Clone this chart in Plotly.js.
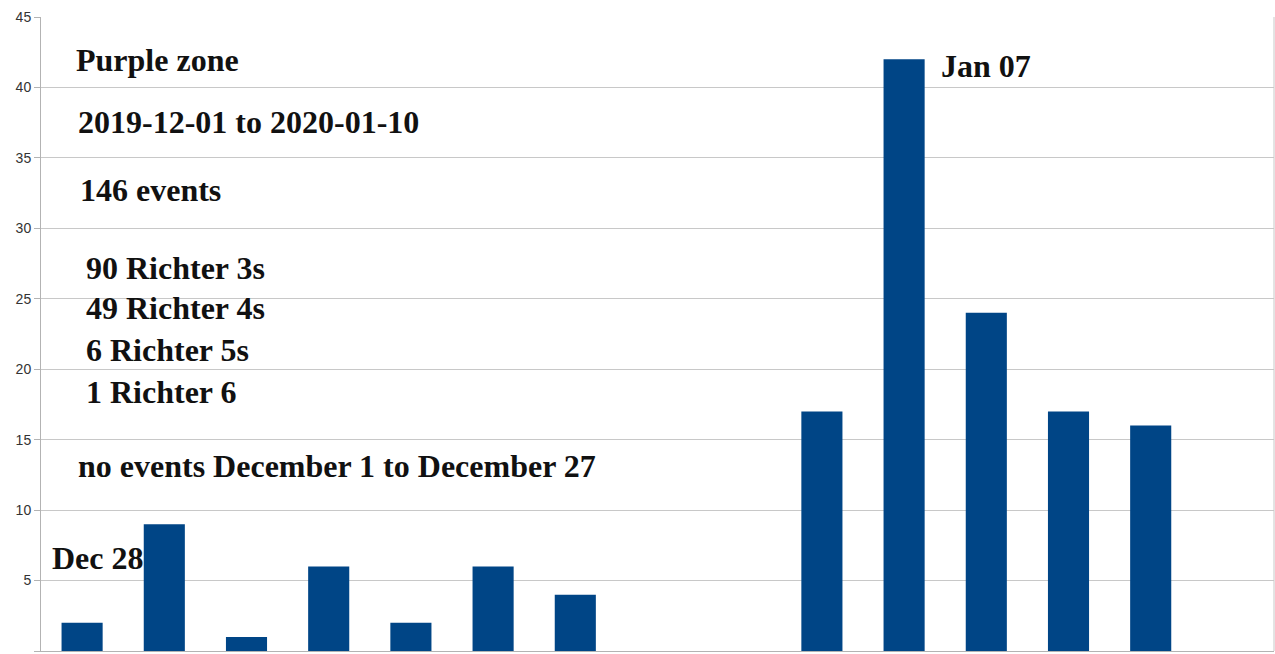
<!DOCTYPE html>
<html><head><meta charset="utf-8">
<script src="https://cdn.plot.ly/plotly-3.0.1.min.js"></script>
<style>html,body{margin:0;padding:0;background:#fff;}#chart{width:1275px;height:654px;}</style>
</head><body><div id="chart"></div>
<script>
const days = ["Dec 28","Dec 29","Dec 30","Dec 31","Jan 01","Jan 02","Jan 03","Jan 04","Jan 05","Jan 06","Jan 07","Jan 08","Jan 09","Jan 10","Jan 11"];
const events = [2,9,1,6,2,6,4,0,0,17,42,24,17,16,0];
const yTicks = [0,5,10,15,20,25,30,35,40,45];

const textFont = {family:"Liberation Serif, Times New Roman, serif", size:32, color:"#111"};
function ann(text, px, py){
  return {text:"<b>"+text+"</b>", xref:"paper", yref:"paper", x:(px-41)/1232, y:(651-py)/634,
          xanchor:"left", yanchor:"middle", showarrow:false, font:textFont};
}
const annotations = [
  ann("Purple zone", 74, 60),
  ann("2019-12-01 to 2020-01-10", 76, 122),
  ann("146 events", 78, 190),
  ann("90 Richter 3s", 84, 268),
  ann("49 Richter 4s", 84, 308),
  ann("6 Richter 5s", 84, 350),
  ann("1 Richter 6", 84, 392),
  ann("no events December 1 to December 27", 76, 466),
  ann("Dec 28", 50, 558),
  ann("Jan 07", 938, 66)
];

Plotly.newPlot("chart", [{
  type:"bar", x:days, y:events, marker:{color:"#004586"}, width:0.5, hoverinfo:"x+y"
}], {
  width:1275, height:654,
  margin:{l:41, r:1, t:17, b:3},
  paper_bgcolor:"#fff", plot_bgcolor:"#fff",
  showlegend:false,
  xaxis:{type:"category", showticklabels:false, showgrid:false, zeroline:false,
         showline:true, linecolor:"#b3b3b3", mirror:false, ticks:"", range:[-0.5,14.5]},
  yaxis:{range:[0,45], tickvals:yTicks, showgrid:true, gridcolor:"#c8c8c8", zeroline:false,
         showline:true, linecolor:"#b3b3b3", ticks:"outside", ticklen:6, tickcolor:"#b3b3b3",
         tickfont:{family:"Liberation Sans, Arial, sans-serif", size:14, color:"#333"}},
  shapes:[{type:"line", xref:"paper", yref:"paper", x0:1, x1:1, y0:0, y1:1, line:{color:"#c8c8c8", width:1}}],
  annotations: annotations
}, {displayModeBar:false, staticPlot:true});
</script></body></html>
